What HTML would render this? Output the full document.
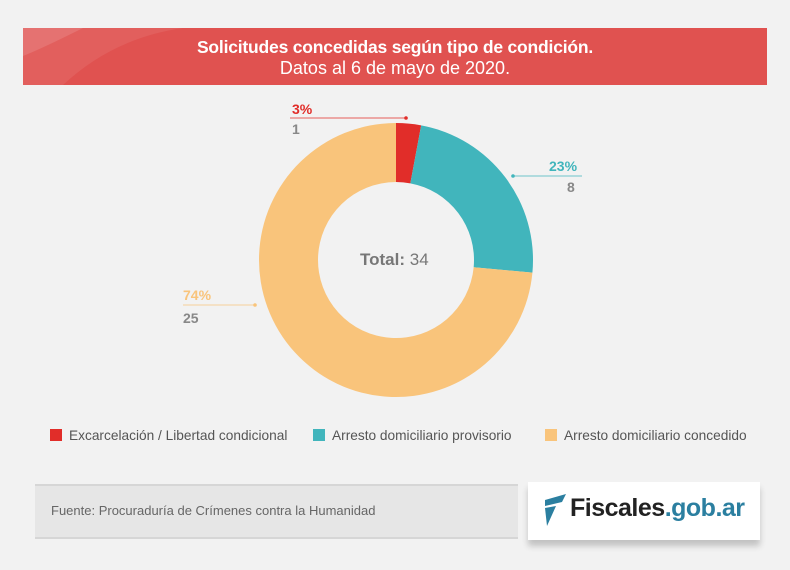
<!DOCTYPE html>
<html><head><meta charset="utf-8"><style>
body{margin:0;width:790px;height:570px;background:#f2f2f2;font-family:"Liberation Sans",sans-serif;position:relative;overflow:hidden}
.t{position:absolute}
</style></head><body>
<div class="t" style="left:23px;top:28px;width:744px;height:57px;background:#e05250;overflow:hidden">
<svg width="744" height="57" style="position:absolute;left:0;top:0"><path d="M0 0 H60 Q20 20 0 28Z" fill="#fff" opacity="0.12"/><path d="M40 57 Q90 10 160 0 H0 V57Z" fill="#fff" opacity="0.08"/></svg>
<div class="t" style="left:0;width:744px;top:9px;text-align:center;color:#fff;font-size:17.5px;font-weight:bold;letter-spacing:-0.2px">Solicitudes concedidas según tipo de condición.</div>
<div class="t" style="left:0;width:744px;top:30px;text-align:center;color:#fff;font-size:18px">Datos al 6 de mayo de 2020.</div>
</div>
<svg class="t" style="left:0;top:0" width="790" height="570">
<path d="M396 123 A137 137 0 0 1 421.18 125.33 L410.34 183.33 A78 78 0 0 0 396 182Z" fill="#e12d29"/>
<path d="M421.18 125.33 A137 137 0 0 1 532.42 272.63 L473.67 267.19 A78 78 0 0 0 410.34 183.33Z" fill="#41b5bc"/>
<path d="M532.42 272.63 A137 137 0 1 1 396 123 L396 182 A78 78 0 1 0 473.67 267.19Z" fill="#f9c47b"/>
<line x1="290" y1="118" x2="406" y2="118" stroke="#e12d29" stroke-width="0.8"/><circle cx="406" cy="118" r="1.8" fill="#e12d29"/>
<line x1="513" y1="176" x2="582" y2="176" stroke="#41b5bc" stroke-width="0.8"/><circle cx="513" cy="176" r="1.8" fill="#41b5bc"/>
<line x1="183" y1="305" x2="255" y2="305" stroke="#f9c47b" stroke-width="0.8"/><circle cx="255" cy="305" r="1.8" fill="#f9c47b"/>
<line x1="35" y1="485" x2="518" y2="485" stroke="#bbb"/><line x1="35" y1="538" x2="518" y2="538" stroke="#bbb"/>
<rect x="35" y="486" width="483" height="51" fill="#e6e6e6"/>
</svg>
<div class="t" style="left:292px;top:101px;color:#e12d29;font-weight:bold;font-size:14px">3%</div>
<div class="t" style="left:292px;top:121px;color:#888;font-weight:bold;font-size:14px">1</div>
<div class="t" style="left:549px;top:158px;color:#41b5bc;font-weight:bold;font-size:14px">23%</div>
<div class="t" style="left:567px;top:179px;color:#888;font-weight:bold;font-size:14px">8</div>
<div class="t" style="left:183px;top:287px;color:#f9c47b;font-weight:bold;font-size:14px">74%</div>
<div class="t" style="left:183px;top:310px;color:#888;font-weight:bold;font-size:14px">25</div>
<div class="t" style="left:360px;top:250px;color:#777;font-size:17px"><b>Total:</b> 34</div>
<div class="t" style="left:50px;top:429px;width:12px;height:12px;background:#e12d29"></div>
<div class="t" style="left:69px;top:428px;color:#555;font-size:13.7px">Excarcelación / Libertad condicional</div>
<div class="t" style="left:313px;top:429px;width:12px;height:12px;background:#41b5bc"></div>
<div class="t" style="left:332px;top:428px;color:#555;font-size:13.7px">Arresto domiciliario provisorio</div>
<div class="t" style="left:545px;top:429px;width:12px;height:12px;background:#f9c47b"></div>
<div class="t" style="left:564px;top:428px;color:#555;font-size:13.7px">Arresto domiciliario concedido</div>
<div class="t" style="left:51px;top:503px;color:#666;font-size:13px">Fuente: Procuraduría de Crímenes contra la Humanidad</div>
<div class="t" style="left:528px;top:482px;width:232px;height:58px;background:#fff;box-shadow:0 6px 6px rgba(0,0,0,0.2)">
<svg class="t" style="left:14px;top:10px" width="26" height="36"><path d="M3 8 L24 2 L20 10 L3 14Z M3 16 L14 14 L5 34 Z" fill="#2b7fa0"/></svg>
<div class="t" style="left:42px;top:12px;font-size:25px;font-weight:bold;color:#222;letter-spacing:-0.5px">Fiscales<span style="color:#2b7fa0">.gob.ar</span></div>
</div>
</body></html>
